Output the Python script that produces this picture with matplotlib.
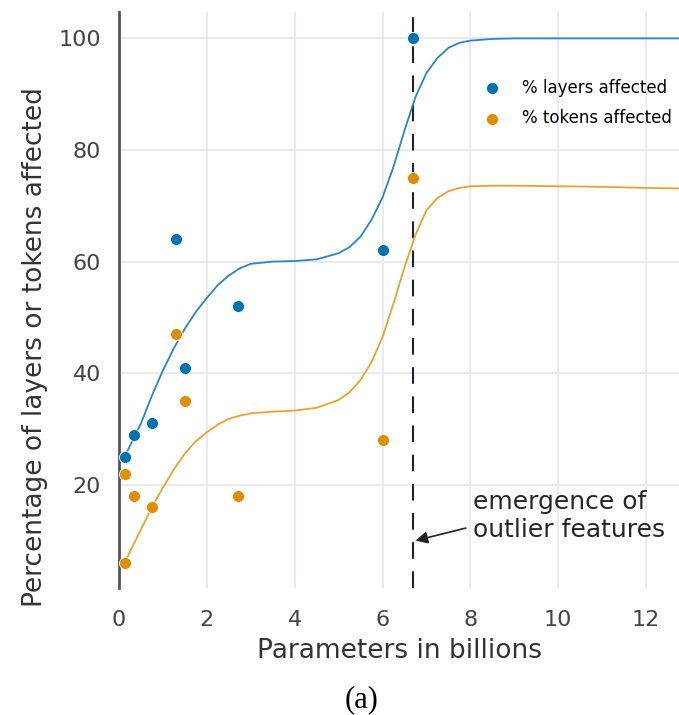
import numpy as np
import matplotlib.pyplot as plt

# measured points (params in billions, percent)
params = [0.125, 0.35, 0.76, 1.3, 1.5, 2.7, 6.0, 6.7]
layers = [25, 29, 31, 64, 41, 52, 62, 100]
tok_params = [0.125, 0.125, 0.35, 0.76, 1.3, 1.5, 2.7, 6.0, 6.7]
tokens = [22, 6, 18, 16, 47, 35, 18, 28, 75]

# trend curves
curve_x = [0.125, 0.5, 0.75, 1.0, 1.25, 1.5, 1.75, 2.0, 2.25, 2.5, 2.75, 3.0,
           3.5, 4.0, 4.5, 5.0, 5.25, 5.5, 5.75, 6.0, 6.25, 6.5, 6.75, 7.0,
           7.25, 7.5, 7.75, 8.0, 8.5, 9.0, 10.0, 11.0, 12.0, 12.8]
layers_fit = [25, 31, 36, 40.5, 44.5, 48, 51, 53.5, 55.8, 57.5, 58.8, 59.6,
              60.0, 60.1, 60.4, 61.5, 62.6, 64.5, 67.5, 71.5, 77, 83.5, 89.5, 93.8,
              96.5, 98.3, 99.2, 99.6, 99.9, 100, 100, 100, 100, 100]
tokens_fit = [6, 12, 16, 19.5, 22.8, 25.6, 27.8, 29.4, 30.8, 31.8, 32.4, 32.8,
              33.1, 33.3, 33.8, 35.2, 36.6, 38.8, 42, 46.5, 52.5, 59, 64.8, 69.2,
              71.4, 72.6, 73.2, 73.5, 73.6, 73.6, 73.5, 73.4, 73.2, 73.1]

blue = '#0173B2'
orange = '#DE8F05'

fig = plt.figure(figsize=(6.79, 7.15), dpi=100)
ax = fig.add_axes([0.1753, 0.1776, 0.8247, 0.8054])

ax.plot(curve_x, layers_fit, color='#2A86C2', lw=1.3, zorder=2)
ax.plot(curve_x, tokens_fit, color='#E9A22E', lw=1.3, zorder=2)
ax.scatter(params, layers, s=75, color=blue, edgecolor='white', linewidth=0.6,
           label='% layers affected', zorder=3)
ax.scatter(tok_params, tokens, s=75, color=orange, edgecolor='white', linewidth=0.6,
           label='% tokens affected', zorder=3)

ax.axvline(6.7, color='#222222', lw=1.5, linestyle=(0, (8, 6)), zorder=1)
ax.annotate('emergence of\noutlier features', xy=(6.75, 10), xytext=(8.05, 14.4),
            fontsize=18, color='#262626', ha='left', va='center',
            arrowprops=dict(arrowstyle='-|>', color='#222222', lw=1.2,
                            mutation_scale=18, relpos=(0, 0.3), shrinkA=3, shrinkB=0))

ax.set_xlim(0, 12.75)
ax.set_ylim(1.5, 104.7)
ax.set_xticks([0, 2, 4, 6, 8, 10, 12])
ax.set_yticks([20, 40, 60, 80, 100])
ax.grid(True, color='#EAEAF2', lw=1.5)
ax.set_axisbelow(True)
ax.tick_params(length=0, labelsize=16, labelcolor='#444444', pad=13)
ax.tick_params(axis='x', pad=15.5)
for s in ['top', 'right', 'bottom']:
    ax.spines[s].set_visible(False)
ax.spines['left'].set_color('#555555')
ax.spines['left'].set_linewidth(2)

ax.set_xlabel('Parameters in billions', fontsize=19, color='#333333', labelpad=6)
ax.set_ylabel('Percentage of layers or tokens affected', fontsize=19, color='#333333')
ax.yaxis.set_label_coords(-0.127, 0.418)

ax.legend(loc='upper right', bbox_to_anchor=(1.0, 0.896), frameon=False, fontsize=12,
          handletextpad=0.8, labelspacing=0.75, borderaxespad=0)

fig.text(0.532, 0.021, '(a)', ha='center', va='center', fontsize=22,
         family='Liberation Serif')

fig.savefig('out.png', dpi=100)
